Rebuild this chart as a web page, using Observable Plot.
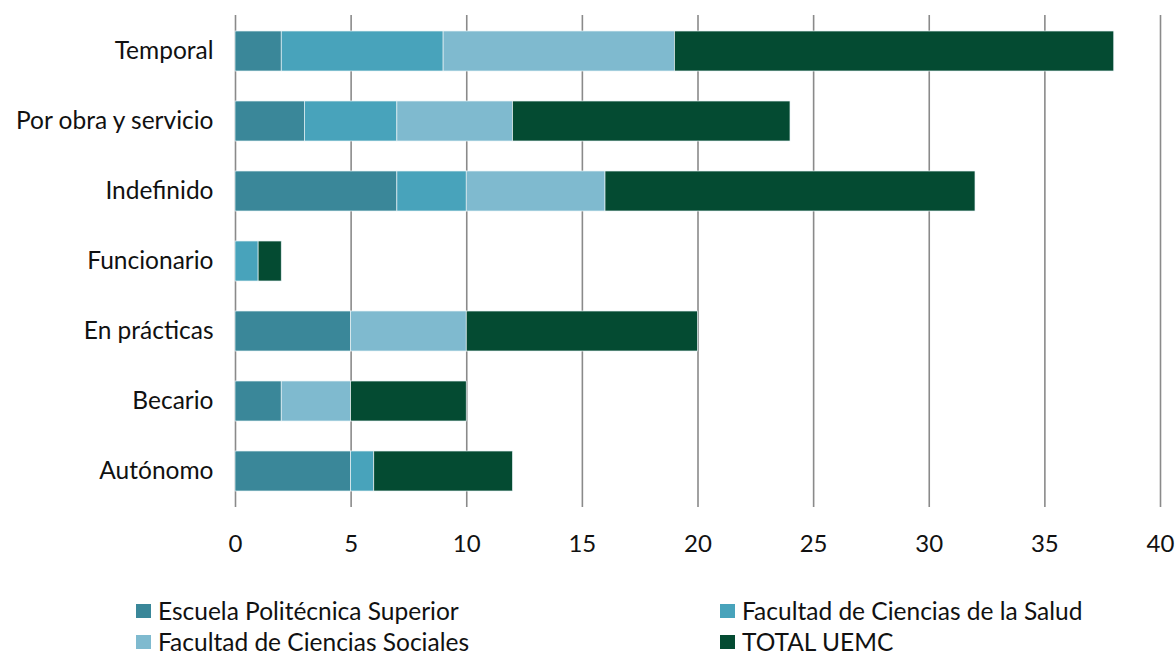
<!DOCTYPE html>
<html>
<head>
<meta charset="utf-8">
<script src="https://cdn.jsdelivr.net/npm/d3@7"></script>
<script src="https://cdn.jsdelivr.net/npm/@observablehq/plot@0.6"></script>
<style>
  html, body { margin: 0; background: #fff; font-family: Lato, "Open Sans", sans-serif; overflow: hidden; }
  #wrap { position: relative; width: 1176px; height: 659px; overflow: hidden; }
  .leg { position: absolute; display: flex; align-items: center; font-size: 24.5px; line-height: 26px; color: #111; white-space: nowrap; }
  .sw { width: 15px; height: 14px; margin-right: 7px; flex: none; }
</style>
</head>
<body>
<div id="wrap"></div>
<script>
const categories = ["Temporal", "Por obra y servicio", "Indefinido", "Funcionario", "En prácticas", "Becario", "Autónomo"];
const seriesNames = ["Escuela Politécnica Superior", "Facultad de Ciencias de la Salud", "Facultad de Ciencias Sociales", "TOTAL UEMC"];
const eps      = [2, 3, 7, 0, 5, 2, 5];
const salud    = [7, 4, 3, 1, 0, 0, 1];
const sociales = [10, 5, 6, 0, 5, 3, 0];
const total    = [19, 12, 16, 1, 10, 5, 6];
const colors = ["#3a8799", "#48a3bb", "#7fbacf", "#044b32"];
const xTicks = [0, 5, 10, 15, 20, 25, 30, 35, 40];

const seriesValues = [eps, salud, sociales, total];
const data = [];
categories.forEach((c, i) => {
  seriesNames.forEach((s, j) => data.push({cat: c, series: s, value: seriesValues[j][i]}));
});

const chart = Plot.plot({
  width: 1176,
  height: 570,
  marginLeft: 235,
  marginRight: 16,
  marginTop: 15,
  marginBottom: 63,
  style: {fontFamily: "Lato, 'Open Sans', sans-serif", fontSize: "24px", color: "#111"},
  x: {domain: [0, 40], ticks: xTicks, label: null},
  y: {domain: categories, label: null, paddingInner: 0.43, paddingOuter: 0.215},
  color: {domain: seriesNames, range: colors},
  marks: [
    Plot.ruleX(xTicks, {stroke: "#8a8a8a", strokeWidth: 1.6}),
    Plot.barX(data, Plot.stackX({x: "value", y: "cat", fill: "series", stroke: "#e8f2f5", strokeWidth: 0.7, order: null})),
    Plot.axisX({ticks: xTicks, tickSize: 0, tickPadding: 27, fontSize: 24, label: null}),
    Plot.axisY({tickSize: 0, tickPadding: 22, fontSize: 24.5, label: null})
  ]
});
chart.style.display = "block";
const wrap = document.getElementById("wrap");
wrap.appendChild(chart);

const legPos = [[136, 611], [720, 611], [136, 642], [720, 642]];
seriesNames.forEach((s, i) => {
  const d = document.createElement("div");
  d.className = "leg";
  d.style.left = legPos[i][0] + "px";
  d.style.top = (legPos[i][1] - 13) + "px";
  d.style.height = "26px";
  d.innerHTML = `<div class="sw" style="background:${colors[i]}"></div><span>${s}</span>`;
  wrap.appendChild(d);
});
</script>
</body>
</html>
